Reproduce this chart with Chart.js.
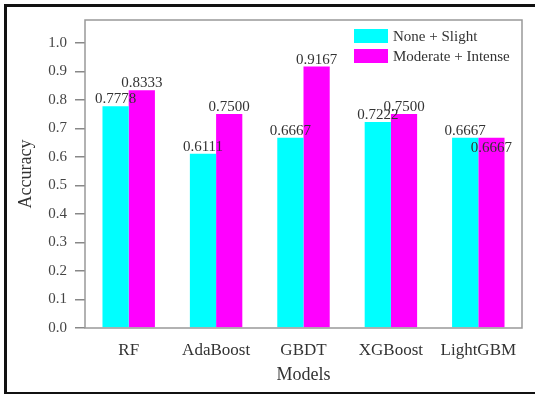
<!DOCTYPE html>
<html>
<head>
<meta charset="utf-8">
<script src="https://cdn.jsdelivr.net/npm/chart.js@4.4.0/dist/chart.umd.min.js"></script>
<style>
    html, body { margin: 0; padding: 0; background: #fff; overflow: hidden; }
    #wrap { position: relative; width: 535px; height: 394px; }
    #frame { position: absolute; left: 4px; top: 4px; width: 540px; height: 385px; border: 3px solid #111; pointer-events: none; }
</style>
</head>
<body>
<div id="wrap">
    <canvas id="chart" width="535" height="394"></canvas>
    <div id="frame"></div>
</div>
<script>
const models = ['RF', 'AdaBoost', 'GBDT', 'XGBoost', 'LightGBM'];
const noneSlight = [0.7778, 0.6111, 0.6667, 0.7222, 0.6667];
const moderateIntense = [0.8333, 0.7500, 0.9167, 0.7500, 0.6667];
const yTicks = [0.0, 0.1, 0.2, 0.3, 0.4, 0.5, 0.6, 0.7, 0.8, 0.9, 1.0];

const FONT = "'Liberation Serif', 'Times New Roman', serif";
const TEXT = '#333';

// value labels above bars (the last magenta one sits inside its bar in the original)
const valueLabels = {
    id: 'valueLabels',
    afterDatasetsDraw(chart) {
        let ctx = chart.ctx;
        ctx.save();
        ctx.font = '15px ' + FONT;
        ctx.fillStyle = TEXT;
        ctx.textAlign = 'center';
        ctx.textBaseline = 'alphabetic';
        chart.data.datasets.forEach(function (ds, i) {
            chart.getDatasetMeta(i).data.forEach(function (bar, j) {
                let dy = (i === 1 && j === 4) ? 14 : -3;
                ctx.fillText(ds.data[j].toFixed(4), bar.x, bar.y + dy);
            });
        });
        ctx.restore();
    }
};

// plot box and legend inside the top-right corner
const boxAndLegend = {
    id: 'boxAndLegend',
    afterDraw(chart) {
        let ctx = chart.ctx;
        let a = chart.chartArea;
        ctx.save();
        ctx.strokeStyle = '#999';
        ctx.lineWidth = 1.5;
        ctx.strokeRect(a.left, a.top, a.right - a.left, a.bottom - a.top);

        ctx.font = '15px ' + FONT;
        ctx.textBaseline = 'middle';
        ctx.textAlign = 'left';
        chart.data.datasets.forEach(function (ds, i) {
            let y = 29 + i * 20;
            ctx.fillStyle = ds.backgroundColor;
            ctx.fillRect(354, y, 34, 14);
            ctx.fillStyle = TEXT;
            ctx.fillText(ds.label, 393, y + 8);
        });
        ctx.restore();
    }
};

new Chart(document.getElementById('chart'), {
    type: 'bar',
    data: {
        labels: models,
        datasets: [
            {
                label: 'None + Slight',
                data: noneSlight,
                backgroundColor: '#00FFFF'
            },
            {
                label: 'Moderate + Intense',
                data: moderateIntense,
                backgroundColor: '#FF00FF'
            }
        ]
    },
    options: {
        responsive: false,
        animation: false,
        layout: {
            padding: { left: 0, top: 20, right: 13, bottom: 0 }
        },
        datasets: {
            bar: {
                categoryPercentage: 0.6,
                barPercentage: 1.0
            }
        },
        plugins: {
            legend: { display: false },
            tooltip: { enabled: false }
        },
        scales: {
            x: {
                grid: { display: false },
                border: { display: false },
                ticks: {
                    color: TEXT,
                    padding: 4,
                    font: { family: FONT, size: 17 }
                },
                title: {
                    display: true,
                    text: 'Models',
                    color: TEXT,
                    padding: { top: 0, bottom: 8 },
                    font: { family: FONT, size: 18 }
                },
                afterFit: function (s) { s.height = 66; }
            },
            y: {
                min: 0,
                max: 1.08,
                afterBuildTicks: function (s) {
                    s.ticks = yTicks.map(v => ({ value: v }));
                },
                grid: {
                    drawOnChartArea: false,
                    drawTicks: true,
                    tickLength: 10,
                    color: '#888',
                    lineWidth: 1.5
                },
                border: { display: false },
                ticks: {
                    color: '#444',
                    padding: 8,
                    font: { family: FONT, size: 15 },
                    callback: v => v.toFixed(1)
                },
                title: {
                    display: true,
                    text: 'Accuracy',
                    color: TEXT,
                    padding: { top: 15, bottom: 0 },
                    font: { family: FONT, size: 18 }
                },
                afterFit: function (s) { s.width = 85; }
            }
        }
    },
    plugins: [valueLabels, boxAndLegend]
});
</script>
</body>
</html>
